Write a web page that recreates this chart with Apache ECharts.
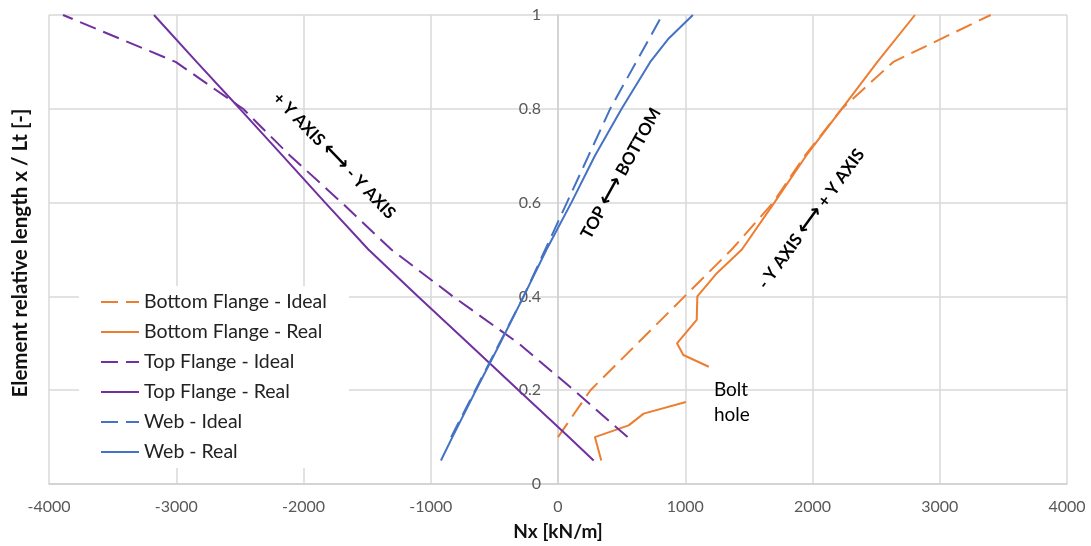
<!DOCTYPE html>
<html>
<head>
<meta charset="utf-8">
<script src="https://cdn.jsdelivr.net/npm/echarts@6/dist/echarts.min.js"></script>
<style>
  html, body { margin: 0; padding: 0; background: #fff; }
  #chart { width: 1091px; height: 546px; }
</style>
</head>
<body>
<div id="chart"></div>
<script>
// values: [Nx, x/Lt]
var bottomIdeal = [[0, 0.1], [255, 0.2], [625, 0.3], [995, 0.4], [1365, 0.5], [1690, 0.6], [1940, 0.7], [2230, 0.8], [2635, 0.9], [3400, 1.0]];
var bottomReal = [[340, 0.05], [290, 0.1], [555, 0.125], [673, 0.15], [1005, 0.175], '-',
                  [1185, 0.25], [985, 0.275], [935, 0.3], [1090, 0.35], [1095, 0.4], [1250, 0.45],
                  [1445, 0.5], [1700, 0.6], [1950, 0.7], [2230, 0.8], [2510, 0.9], [2805, 1.0]];
var topIdeal = [[547, 0.1], [125, 0.2], [-310, 0.3], [-826, 0.4], [-1310, 0.5], [-1700, 0.6], [-2105, 0.7], [-2475, 0.8], [-3005, 0.9], [-3890, 1.0]];
var topReal = [[280, 0.05], [85, 0.1], [-310, 0.2], [-705, 0.3], [-1100, 0.4], [-1490, 0.5], [-1830, 0.6], [-2165, 0.7], [-2500, 0.8], [-2840, 0.9], [-3175, 1.0]];
var webIdeal = [[-840, 0.1], [-650, 0.2], [-460, 0.3], [-270, 0.4], [-100, 0.5], [70, 0.6], [240, 0.7], [410, 0.8], [615, 0.9], [820, 1.0]];
var webReal = [[-920, 0.05], [-830, 0.1], [-645, 0.2], [-455, 0.3], [-270, 0.4], [-90, 0.5], [105, 0.6], [290, 0.7], [500, 0.8], [725, 0.9], [870, 0.95], [1060, 1.0]];

var names = ['Bottom Flange - Ideal', 'Bottom Flange - Real', 'Top Flange - Ideal', 'Top Flange - Real', 'Web - Ideal', 'Web - Real'];
var colors = ['#ED7D31', '#ED7D31', '#7030A0', '#7030A0', '#4472C4', '#4472C4'];
var dashed = [true, false, true, false, true, false];
var datasets = [bottomIdeal, bottomReal, topIdeal, topReal, webIdeal, webReal];

// text notes placed at data coordinates, angle in degrees
var notes = [
    { text: '+ Y AXIS {a|\u27F7} - Y AXIS', at: [-1760, 0.70], angle: -46, bold: true },
    { text: 'TOP {a|\u27F7} BOTTOM', at: [495, 0.662], angle: 61, bold: true },
    { text: '- Y AXIS {a|\u27F7} + Y AXIS', at: [1990, 0.565], angle: 54, bold: true },
    { text: 'Bolt\nhole', at: [1225, 0.175], angle: 0, bold: false }
];

var font = 'Lato, "Liberation Sans", sans-serif';
var gridLeft = 49, gridRight = 24;
var chart = echarts.init(document.getElementById('chart'));

var dashIcon = 'path://M0,0h17v2h-17z M25,0h13v2h-13z';
var lineIcon = 'path://M0,0h38v2h-38z';

var series = datasets.map(function (d, i) {
    return {
        name: names[i],
        type: 'line',
        data: d,
        symbol: 'none',
        connectNulls: false,
        color: colors[i],
        lineStyle: { width: 2, color: colors[i], type: dashed[i] ? [17, 8] : 'solid' }
    };
});

chart.setOption({
    animation: false,
    grid: { left: gridLeft, right: gridRight, top: 15, bottom: 57 },
    legend: {
        orient: 'vertical',
        left: 79,
        top: 286,
        padding: [6, 22, 6, 22],
        backgroundColor: '#fff',
        itemWidth: 38,
        itemHeight: 14,
        itemGap: 10,
        data: names.map(function (n, i) {
            return { name: n, icon: dashed[i] ? dashIcon : lineIcon };
        }),
        textStyle: { fontFamily: font, fontSize: 19.5, color: '#222', lineHeight: 20 }
    },
    xAxis: {
        type: 'value',
        min: -4000,
        max: 4000,
        interval: 1000,
        name: 'Nx [kN/m]',
        nameLocation: 'middle',
        nameGap: 38,
        nameTextStyle: { fontFamily: font, fontSize: 19, fontWeight: 'bold', color: '#111' },
        axisLine: { lineStyle: { color: '#d0d0d0', width: 1.5 } },
        axisTick: { show: false },
        axisLabel: {
            fontFamily: font, fontSize: 16, color: '#595959', margin: 15,
            formatter: function (v) { return String(v); }
        },
        splitLine: { lineStyle: { color: '#d9d9d9', width: 1.5 } }
    },
    yAxis: {
        type: 'value',
        min: 0,
        max: 1,
        interval: 0.2,
        position: 'left',
        // put the axis at Nx = 0, the middle of the grid
        offset: -(1091 - gridLeft - gridRight) / 2,
        axisLine: { show: true, onZero: false, lineStyle: { color: '#d0d0d0', width: 1.5 } },
        axisTick: { show: false },
        axisLabel: { fontFamily: font, fontSize: 16, color: '#595959', margin: 17 },
        splitLine: { lineStyle: { color: '#d9d9d9', width: 1.5 } }
    },
    series: series
});

var graphics = notes.map(function (n) {
    var p = chart.convertToPixel({ gridIndex: 0 }, n.at);
    return {
        type: 'text',
        x: p[0],
        y: p[1],
        rotation: n.angle * Math.PI / 180,
        z: 100,
        style: {
            text: n.text,
            fontFamily: font,
            fontSize: n.bold ? 17 : 19,
            fontWeight: n.bold ? 'bold' : 'normal',
            lineHeight: 25,
            fill: '#000',
            align: n.bold ? 'center' : 'left',
            verticalAlign: 'middle',
            rich: { a: { fontFamily: '"DejaVu Sans"', fontSize: 21, fontWeight: 'bold', fill: '#000' } }
        }
    };
});
graphics.push({
    type: 'text',
    x: 20,
    y: 253,
    rotation: Math.PI / 2,
    style: {
        text: 'Element relative length x / Lt [-]',
        fontFamily: font,
        fontSize: 20.5,
        fontWeight: 'bold',
        fill: '#111',
        align: 'center',
        verticalAlign: 'middle'
    }
});
chart.setOption({ graphic: graphics });

window.addEventListener('resize', function () {
    chart.resize();
});
</script>
</body>
</html>
